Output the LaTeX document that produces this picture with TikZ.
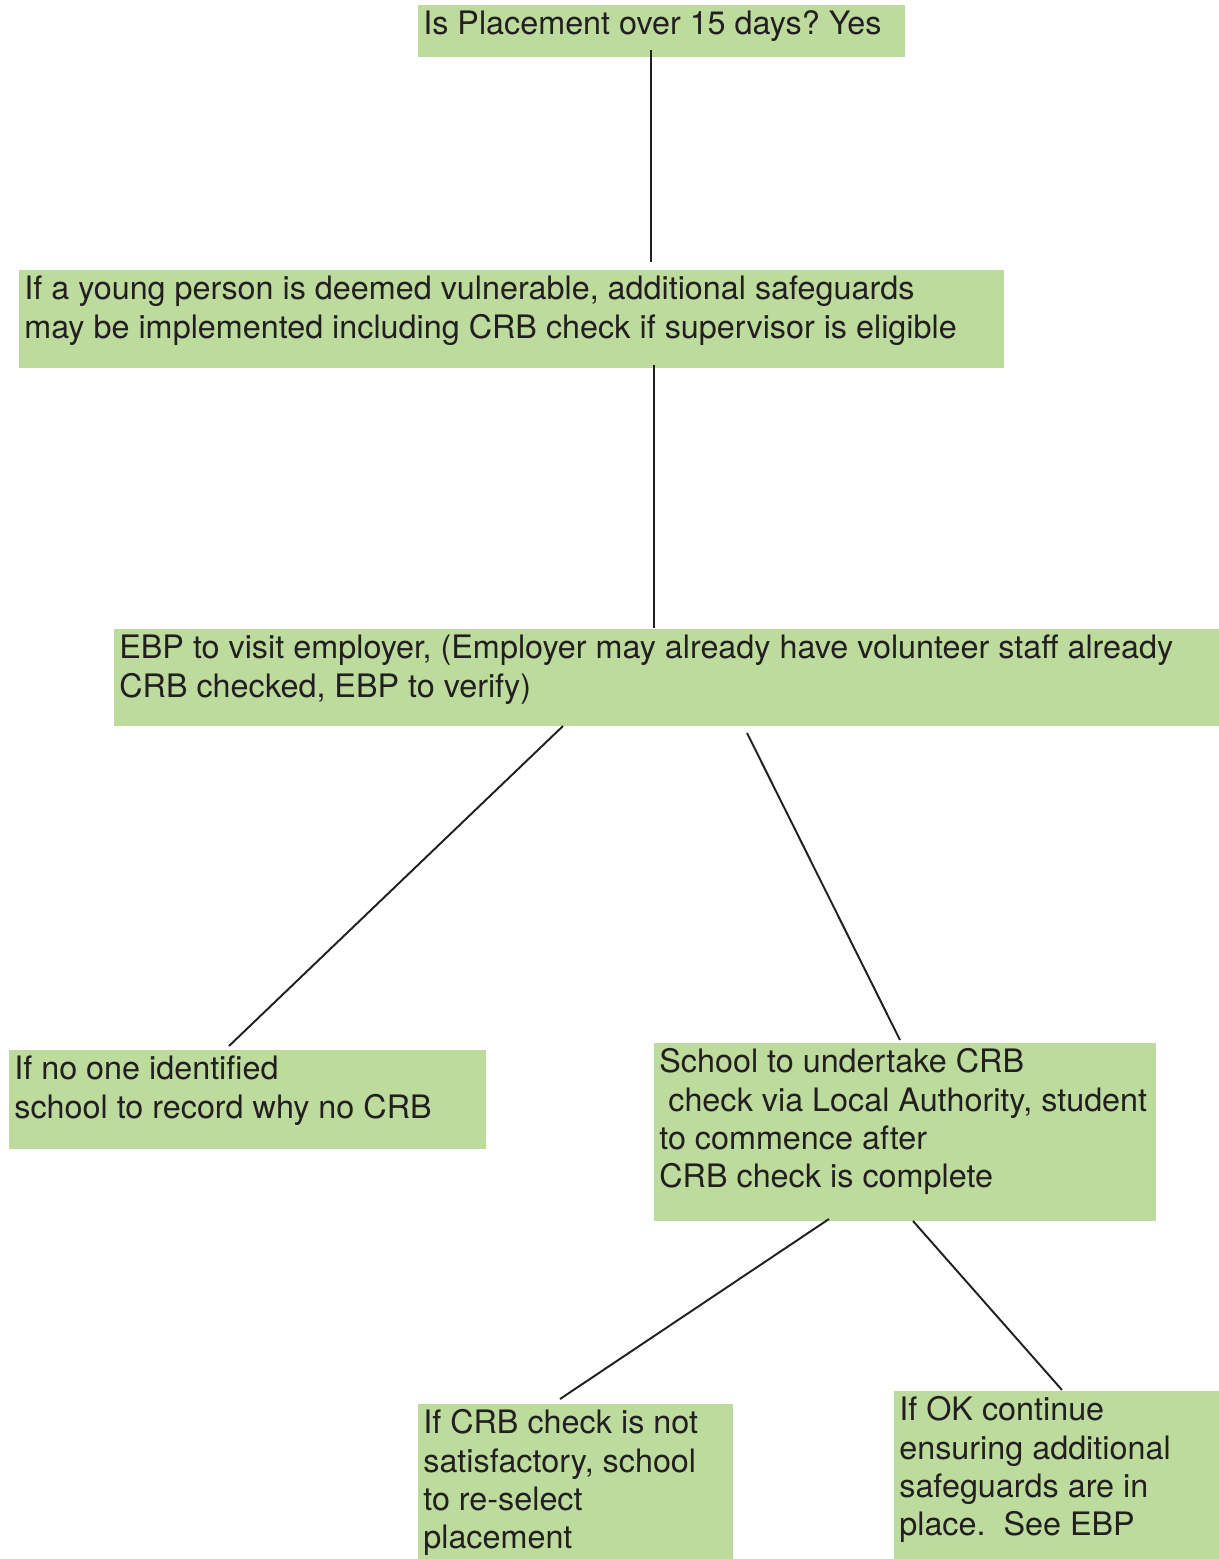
\documentclass[tikz,border=0pt]{standalone}
\usepackage{fontspec}
\setmainfont{TeX Gyre Heros}
\usepackage{xcolor}
\definecolor{boxgreen}{RGB}{189,219,157}
\definecolor{ink}{RGB}{35,31,32}
\frenchspacing
\newcommand{\boxtext}[3]{\parbox[t][#2][t]{#1}{\rule{0pt}{16.6pt}#3}}

\begin{document}
\begin{tikzpicture}[x=0.02cm,y=-0.02cm,
    stepbox/.style={fill=boxgreen,text=ink,anchor=north west,inner xsep=0.1cm,inner ysep=0pt,
      font=\fontsize{18.4}{21.9}\selectfont},
    link/.style={draw=ink,line width=1.1pt}]
    \useasboundingbox (0,0) rectangle (1219,1559);
    \node[stepbox](days) at (418,5) {\boxtext{9.54cm}{1.04cm}{Is Placement over 15 days? Yes}};
    \node[stepbox](vuln) at (19,270) {\boxtext{19.5cm}{1.96cm}{If a young person is deemed vulnerable, additional safeguards\\
      may be implemented including CRB check if supervisor is eligible}};
    \node[stepbox](visit) at (114,629) {\boxtext{21.9cm}{1.94cm}{EBP to visit employer, (Employer may already have volunteer staff already\\
      CRB checked, EBP to verify)}};
    \node[stepbox](noone) at (9,1050) {\boxtext{9.34cm}{1.98cm}{If no one identified\\
      school to record why no CRB}};
    \node[stepbox](school) at (654,1043) {\boxtext{9.84cm}{3.56cm}{School to undertake CRB\\
      \hspace*{0.278em}check via Local Authority, student\\
      to commence after\\
      CRB check is complete}};
    \node[stepbox](notok) at (418,1404) {\boxtext{6.1cm}{3.1cm}{If CRB check is not\\
      satisfactory, school\\
      to re-select\\
      placement}};
    \node[stepbox](ok) at (894,1391) {\boxtext{6.3cm}{3.36cm}{If OK continue\\
      ensuring additional\\
      safeguards are in\\
      place.\ \ See EBP}};

    % line ends, kept clear of the boxes
    \path (651,50) coordinate(d0) (651,262) coordinate(v1)
      (654,365) coordinate(v0) (654,628) coordinate(e1)
      (563,726) coordinate(e0) (229,1046) coordinate(n1)
      (747,733) coordinate(e2) (900,1040) coordinate(s1)
      (829,1219) coordinate(s0) (560,1399) coordinate(f1)
      (913,1221) coordinate(s2) (1062,1390) coordinate(k1);

    \draw[link] (d0) -- (v1);
    \draw[link] (v0) -- (e1);
    \draw[link] (e0) -- (n1);
    \draw[link] (e2) -- (s1);
    \draw[link] (s0) -- (f1);
    \draw[link] (s2) -- (k1);
\end{tikzpicture}
\end{document}
